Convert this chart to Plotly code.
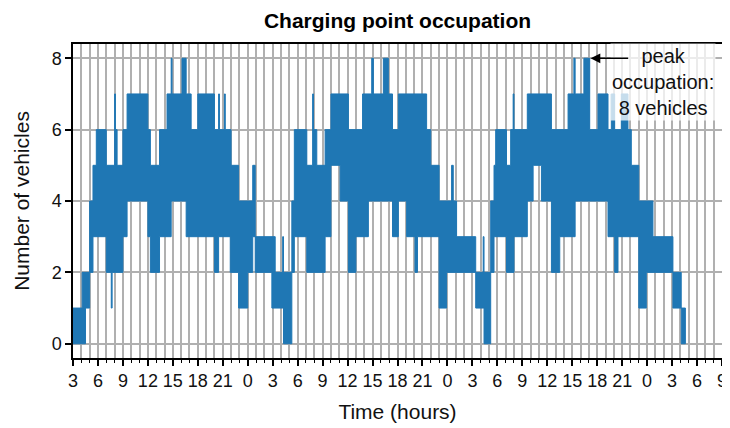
import plotly.graph_objects as go

# occupation band: from seg_start[i] on, the count flips between seg_low[i] and seg_high[i]
seg_start = [3.0, 4.1, 4.5, 5.0, 5.4, 5.8, 7.0, 7.6, 7.7, 8.0, 8.1, 8.3, 9.0, 9.5,
             12.0, 12.3, 13.4, 14.3, 14.8, 14.9, 16.1, 16.6, 17.2, 18.0, 20.0, 20.5,
             20.6, 21.2, 21.3, 21.9, 22.0, 22.9, 24.0, 24.6, 24.9, 26.9, 27.3, 28.2,
             28.3, 29.3, 29.6, 31.1, 31.8, 31.9, 32.3, 33.3, 34.0, 35.1, 36.1, 37.0,
             37.8, 38.5, 38.9, 39.1, 40.3, 40.9, 41.4, 42.1, 43.1, 44.1, 44.4, 45.5,
             46.0, 47.0, 47.9, 48.5, 48.7, 49.1, 51.4, 52.3, 52.4, 53.2, 53.6, 53.8,
             55.1, 55.6, 55.9, 56.0, 57.6, 58.3, 59.3, 60.5, 61.5, 62.5, 63.2, 63.35,
             64.4, 65.1, 66.1, 67.3, 67.7, 68.1, 68.5, 68.9, 69.7, 70.1, 71.0, 71.9,
             72.7, 75.1, 76.1]
seg_low = [0, 0, 1, 2, 3, 3, 2, 1, 2, 2, 2, 2, 3, 4,
           3, 2, 3, 3, 4, 4, 4, 3, 3, 3, 2, 3,
           3, 3, 3, 2, 2, 1, 2, 3, 2, 1, 1, 1,
           0, 2, 3, 2, 2, 2, 2, 3, 5, 4, 2, 3,
           3, 4, 4, 4, 4, 4, 3, 4, 3, 2, 3, 3,
           3, 1, 2, 2, 2, 2, 1, 1, 0, 2, 3, 3,
           2, 2, 2, 3, 4, 5, 4, 2, 3, 3, 3, 4,
           4, 4, 4, 3, 3, 2, 3, 3, 3, 3, 1, 2,
           2, 1, 0]
seg_high = [1, 2, 2, 4, 5, 6, 5, 5, 5, 7, 6, 5, 6, 7,
            6, 5, 6, 7, 8, 7, 8, 7, 6, 7, 6, 7,
            6, 7, 6, 6, 5, 4, 4, 5, 3, 3, 2, 3,
            2, 4, 6, 5, 7, 6, 5, 6, 7, 7, 6, 6,
            7, 7, 8, 7, 8, 7, 6, 7, 7, 7, 7, 6,
            5, 4, 4, 5, 4, 3, 2, 3, 2, 4, 5, 6,
            5, 6, 7, 6, 7, 7, 7, 6, 6, 7, 8, 7,
            8, 6, 7, 6, 7, 6, 6, 7, 6, 5, 4, 4,
            3, 2, 1]
end_time = 76.6

tick_vals = list(range(3, 82, 3))
tick_text = ["3", "6", "9", "12", "15", "18", "21", "0", "3", "6", "9", "12", "15", "18",
             "21", "0", "3", "6", "9", "12", "15", "18", "21", "0", "3", "6", "9"]

peak_time = 65.2
peak_value = 8

# polygon: upper steps forward, lower steps backward
ends = seg_start[1:] + [end_time]
px, py = [], []
for s, e, h in zip(seg_start, ends, seg_high):
    px += [s, e]
    py += [h, h]
for s, e, lo in reversed(list(zip(seg_start, ends, seg_low))):
    px += [e, s]
    py += [lo, lo]

fig = go.Figure()
fig.add_trace(go.Scatter(x=px, y=py, mode="lines", fill="toself",
                         fillcolor="#1f77b4", line=dict(color="#1f77b4", width=1),
                         showlegend=False, hoverinfo="skip"))

font = "Liberation Sans, Arial, sans-serif"
# text box first, arrow after so the arrow is drawn over the box
fig.add_annotation(x=73.9, y=7.33, text="peak<br>occupation:<br>8 vehicles",
                   showarrow=False, align="center", xanchor="center", yanchor="middle",
                   bgcolor="rgba(255,255,255,0.75)", borderpad=1,
                   font=dict(family=font, size=20, color="#111"))
fig.add_annotation(x=peak_time, y=peak_value, ax=69.9, ay=peak_value,
                   axref="x", ayref="y", text="", showarrow=True,
                   arrowhead=2, arrowsize=1.3, arrowwidth=1.5, arrowcolor="black")

# the page body adds an 8px offset, so the figure is 8px smaller than the window
fig.update_layout(
    width=722, height=420,
    margin=dict(l=65, r=8, t=36, b=70, autoexpand=False),
    plot_bgcolor="white", paper_bgcolor="white",
    font=dict(family=font, size=18, color="#111"),
    title=dict(text="<b>Charging point occupation</b>", x=0.5, xanchor="center",
               xref="paper", y=0.971, yref="container", yanchor="middle",
               automargin=False, font=dict(family=font, size=21, color="black")),
)
fig.update_xaxes(
    range=[3, 81], tickmode="array", tickvals=tick_vals, ticktext=tick_text,
    ticks="outside", ticklen=6, tickwidth=1.5, tickcolor="black",
    ticklabeloverflow="allow",
    showline=True, linecolor="black", linewidth=1.5, mirror=True,
    showgrid=True, gridcolor="#b0b0b0", gridwidth=1.8, zeroline=False,
    automargin=False,
    minor=dict(tickmode="array", tickvals=list(range(3, 82)), ticks="outside",
               ticklen=3, tickwidth=1.2, tickcolor="black",
               showgrid=True, gridcolor="#b0b0b0", gridwidth=1.8),
    title=dict(text="Time (hours)", standoff=14, font=dict(size=21)),
)
fig.update_yaxes(
    range=[-0.4, 8.4], tickvals=[0, 2, 4, 6, 8],
    ticks="outside", ticklen=6, tickwidth=1.5, tickcolor="black",
    showline=True, linecolor="black", linewidth=1.5, mirror=True,
    showgrid=True, gridcolor="#b0b0b0", gridwidth=1.8, zeroline=False,
    automargin=False,
    title=dict(text="Number of vehicles", standoff=16, font=dict(size=21)),
)

fig.write_html("out.html")
